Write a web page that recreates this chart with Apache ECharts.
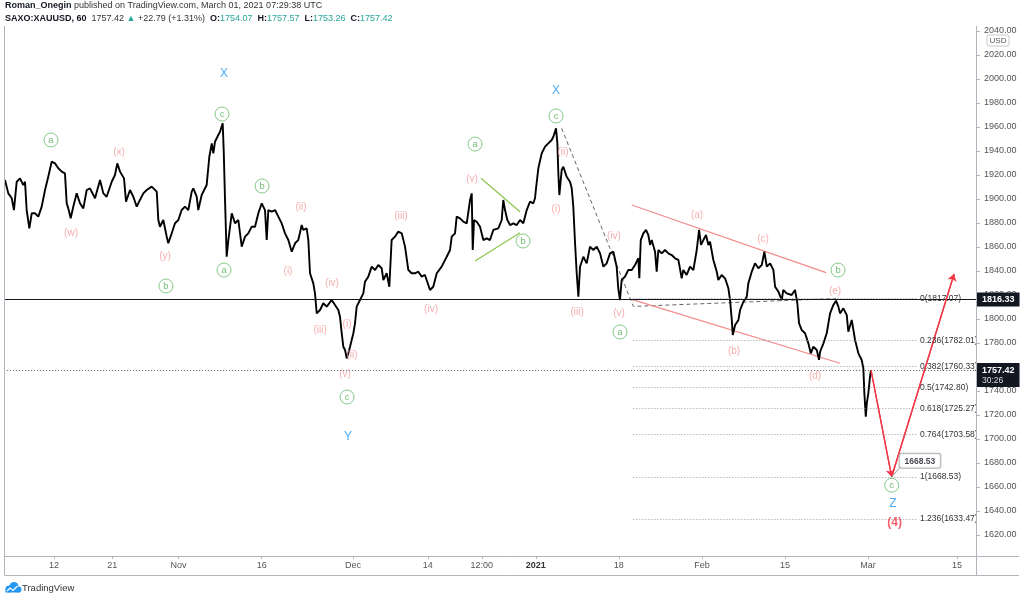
<!DOCTYPE html>
<html><head><meta charset="utf-8">
<script src="https://cdn.jsdelivr.net/npm/echarts@6/dist/echarts.min.js"></script>
<style>html,body{margin:0;padding:0;background:#fff}#c{width:1024px;height:600px}</style>
</head><body><div id="c"></div>
<script>
// x unit: trading-day index, 0 = Mon 2020-10-12 (weekends, Dec 25 and Jan 1 skipped)
const xTickDays   = [0, 7, 15, 25, 36, 45, 51.5, 58, 68, 78, 88, 98, 108.7];
const xTickLabels = ['12','21','Nov','16','Dec','14','12:00','2021','18','Feb','15','Mar','15'];
const yTickValues = [1620,1640,1660,1680,1700,1720,1740,1760,1780,1800,1820,1840,1860,1880,1900,1920,1940,1960,1980,2000,2020,2040];

// XAUUSD 60-min trace: [trading-day index, price]
const xauTrace = [
[-5.90,1915.8],[-5.50,1904.7],[-5.09,1900.6],[-4.82,1890.8],[-4.49,1914.4],[-4.09,1917.2],[-3.70,1911.7],[-3.49,1914.4],
[-3.29,1890.8],[-2.97,1875.6],[-2.68,1888.1],[-2.29,1888.1],[-1.89,1885.3],[-1.48,1893.6],[-1.08,1907.5],[-0.69,1918.6],
[-0.28,1931.1],[0.12,1929.7],[0.52,1925.6],[0.93,1922.8],[1.32,1921.4],[1.53,1896.4],[1.72,1892.2],[2.01,1883.9],
[2.32,1893.6],[2.73,1904.7],[3.13,1896.4],[3.53,1892.2],[3.94,1907.5],[4.33,1908.9],[4.94,1900.6],[5.54,1915.8],
[5.94,1904.7],[6.34,1901.9],[6.95,1914.4],[7.34,1920.0],[7.62,1929.7],[7.95,1922.8],[8.43,1917.2],[8.67,1897.8],
[9.15,1907.5],[9.55,1901.9],[9.96,1893.6],[10.35,1899.2],[10.75,1904.7],[11.16,1907.5],[11.76,1910.3],[12.37,1906.1],
[12.56,1882.5],[12.76,1876.9],[13.16,1882.5],[13.57,1868.6],[13.76,1863.1],[14.17,1871.4],[14.57,1879.8],[14.97,1882.5],
[15.37,1890.8],[15.77,1893.6],[16.17,1890.8],[16.58,1906.1],[16.77,1908.9],[17.18,1901.9],[17.37,1890.8],[17.78,1903.3],
[18.38,1911.7],[18.70,1935.2],[18.99,1946.4],[19.18,1938.1],[19.38,1947.7],[19.78,1953.3],[19.99,1956.1],[20.31,1963.1],
[20.43,1940.8],[20.59,1899.2],[20.79,1851.9],[20.99,1865.8],[21.40,1888.1],[21.79,1879.8],[22.19,1882.5],[22.60,1860.3],
[23.00,1868.6],[23.39,1871.4],[23.80,1876.9],[24.20,1876.9],[24.60,1888.1],[25.01,1896.4],[25.40,1890.8],[25.61,1865.8],
[25.80,1890.8],[26.21,1889.4],[26.61,1890.8],[27.01,1885.3],[27.41,1879.7],[27.81,1871.4],[28.21,1865.8],[28.62,1856.1],
[29.02,1863.1],[29.41,1865.8],[29.82,1878.3],[30.01,1874.2],[30.42,1875.6],[30.62,1865.8],[30.82,1838.1],[31.22,1829.7],
[31.42,1821.4],[31.63,1804.7],[32.03,1807.5],[32.42,1813.1],[32.83,1810.3],[33.43,1815.8],[33.83,1811.7],[34.23,1807.5],
[34.43,1801.9],[34.64,1788.1],[34.83,1776.9],[35.04,1774.2],[35.24,1767.2],[35.43,1771.4],[35.64,1776.9],[35.84,1778.3],
[36.04,1788.1],[36.24,1796.4],[36.44,1810.3],[36.84,1815.8],[37.24,1821.4],[37.44,1831.1],[37.84,1835.3],[38.25,1843.6],
[38.65,1840.8],[39.05,1845.0],[39.45,1842.3],[39.65,1832.5],[40.05,1838.1],[40.37,1826.9],[40.65,1865.8],[41.05,1868.6],
[41.45,1872.8],[41.86,1871.4],[42.26,1860.3],[42.66,1840.8],[43.06,1838.1],[43.46,1838.1],[43.86,1839.4],[44.27,1835.3],
[44.66,1836.7],[45.27,1824.2],[45.66,1826.9],[46.08,1838.1],[46.67,1843.6],[47.28,1851.9],[47.68,1857.5],[47.88,1868.6],
[48.28,1871.4],[48.48,1885.3],[48.88,1883.9],[49.28,1881.1],[49.69,1879.7],[50.09,1899.2],[50.29,1904.7],[50.41,1857.5],
[50.57,1882.5],[50.89,1881.1],[51.29,1876.9],[51.69,1865.8],[52.10,1867.2],[52.49,1865.8],[52.89,1874.2],[53.49,1875.6],
[53.90,1882.5],[54.09,1899.2],[54.30,1890.8],[54.58,1882.5],[54.90,1878.3],[55.30,1879.7],[55.71,1878.3],[56.11,1882.5],
[56.50,1879.7],[56.91,1890.8],[57.31,1897.8],[57.71,1896.4],[57.91,1900.6],[58.03,1908.9],[58.31,1925.6],[58.72,1938.1],
[59.12,1943.6],[59.51,1946.4],[59.92,1949.2],[60.12,1951.9],[60.44,1958.9],[60.60,1946.4],[60.72,1921.4],[60.84,1903.3],
[61.12,1924.2],[61.32,1926.9],[61.72,1918.6],[62.12,1914.4],[62.33,1908.9],[62.52,1893.6],[62.73,1863.1],[62.93,1838.1],
[63.13,1818.6],[63.33,1843.6],[63.73,1851.9],[64.13,1846.4],[64.53,1860.3],[64.93,1857.5],[65.34,1860.3],[65.74,1854.7],
[66.14,1843.6],[66.54,1846.4],[66.94,1854.7],[67.34,1856.1],[67.74,1843.6],[67.93,1825.6],[68.14,1815.8],[68.34,1832.5],
[68.74,1835.3],[69.14,1840.8],[69.55,1840.8],[69.95,1845.0],[70.35,1850.6],[70.47,1833.9],[70.64,1865.8],[70.95,1871.4],
[71.27,1874.2],[71.55,1870.0],[71.76,1861.7],[71.96,1865.8],[72.36,1856.1],[72.56,1839.4],[72.76,1857.5],[73.17,1854.7],
[73.56,1857.5],[73.96,1854.7],[74.37,1853.3],[74.77,1850.6],[75.17,1849.2],[75.57,1833.9],[75.76,1840.8],[76.17,1836.7],
[76.57,1843.6],[76.97,1840.8],[77.38,1857.5],[77.66,1874.2],[77.90,1861.7],[78.18,1865.8],[78.50,1870.0],[78.78,1861.7],
[78.98,1864.4],[79.38,1849.2],[79.79,1839.4],[79.98,1832.5],[80.38,1836.7],[80.79,1833.9],[81.19,1825.6],[81.39,1815.8],
[81.60,1799.2],[81.72,1786.7],[82.00,1795.0],[82.40,1799.2],[82.60,1807.5],[83.00,1814.4],[83.40,1818.6],[83.59,1829.7],
[84.00,1839.4],[84.40,1846.4],[84.80,1842.3],[85.21,1845.0],[85.52,1856.1],[85.81,1843.6],[86.21,1846.4],[86.61,1840.8],
[86.81,1826.9],[87.21,1822.8],[87.61,1815.8],[87.80,1824.2],[88.21,1821.4],[88.81,1820.0],[89.21,1824.2],[89.49,1813.1],
[89.70,1796.4],[90.02,1790.8],[90.42,1788.1],[90.82,1779.7],[91.11,1771.4],[91.42,1776.9],[91.83,1774.2],[92.10,1766.0],
[92.23,1772.7],[92.63,1779.7],[93.03,1788.1],[93.43,1804.7],[93.83,1811.7],[94.15,1815.3],[94.43,1810.3],[94.63,1804.7],
[95.03,1808.9],[95.44,1803.3],[95.63,1789.4],[96.04,1799.2],[96.44,1782.5],[96.84,1771.4],[97.24,1765.8],[97.44,1758.9],
[97.56,1738.1],[97.73,1718.6],[97.85,1729.7],[98.04,1738.1],[98.24,1751.9],[98.36,1757.42]
];

const lastPrice = 1757.42;
const hLinePrice = 1816.33;
const fibRatios = ['0','0.236','0.382','0.5','0.618','0.764','1','1.236'];
const fibPrices = [1817.07,1782.01,1760.33,1742.80,1725.27,1703.58,1668.53,1633.47];
const fibStartT = 69.75, fibEndT = 103.9;
const fibAnchors = [[61.12,1958.9],[69.75,1810.5],[94.15,1817.07]];
const projection = [[98.36,1757.42],[100.85,1668.53],[108.36,1837.5]];
const targetPrice = 1668.53;
const greenUpper = [[51.41,1917.3],[56.10,1889.4]];
const greenLower = [[50.69,1848.3],[56.10,1871.9]];
const pinkUpper = [[69.55,1895.0],[92.95,1838.6]];
const pinkLower = [[69.55,1816.4],[94.63,1763.1]];

const circleLabels = [
 [-0.36,1949.2,'a'],[20.23,1970.8,'c'],[25.05,1910.8,'b'],[20.47,1840.8,'a'],[13.48,1827.5,'b'],[35.28,1735.0,'c'],
 [50.69,1945.8,'a'],[56.47,1865.0,'b'],[60.44,1969.2,'c'],[68.14,1789.2,'a'],[94.39,1840.8,'b'],[100.85,1661.5,'c']
];
const waveLabels = [
 [2.05,1871.7,'(w)'],[7.83,1939.2,'(x)'],[13.36,1852.5,'(y)'],[29.74,1893.3,'(ii)'],[28.17,1840.0,'(i)'],
 [32.03,1790.8,'(iii)'],[33.47,1830.0,'(iv)'],[35.28,1795.8,'(i)'],[35.88,1770.0,'(ii)'],[35.04,1754.2,'(v)'],
 [41.78,1885.8,'(iii)'],[45.39,1808.3,'(iv)'],[50.33,1916.7,'(v)'],[61.28,1939.2,'(ii)'],[60.44,1891.7,'(i)'],
 [62.97,1805.8,'(iii)'],[67.42,1869.2,'(iv)'],[68.02,1805.0,'(v)'],[77.42,1886.7,'(a)'],[81.87,1773.3,'(b)'],
 [85.36,1866.7,'(c)'],[91.62,1752.5,'(d)'],[94.03,1823.3,'(e)']
];
const cycleLabels = [[20.47,2004.2,'X'],[35.41,1701.7,'Y'],[60.44,1990.0,'X'],[101.0,1645.8,'Z']];
const degreeLabels = [[101.2,1630.0,'(4)']];

const FONT = '"Liberation Sans", Arial, sans-serif';
const PINK = '#f39a97', GREEN = '#4caf50', BLUE = '#2196f3', RED = '#f23645';

const chart = echarts.init(document.getElementById('c'));

const fibMark = fibPrices.map((p,i)=>[
  {coord:[fibStartT,p], lineStyle:{color:'#9a9a9a', type:[1,2], width:1},
   label:{show:true, position:'end', distance:3, formatter: fibRatios[i]+'('+p.toFixed(2)+')', color:'#333', fontSize:8.5, fontFamily:FONT}},
  {coord:[fibEndT,p]}
]);

function textSeries(arr, style){
  return {
    type:'scatter', symbolSize:0.01, silent:true, z:6,
    data: arr.map(d=>({value:[d[0],d[1]], name:d[2]})),
    label:Object.assign({show:true, position:'inside', formatter:p=>p.name, fontFamily:FONT}, style)
  };
}

const option = {
  animation:false,
  backgroundColor:'#fff',
  grid:{left:4.16, right:48, top:7, bottom:41, containLabel:false},
  xAxis:{
    type:'value', min:-6, max:111, offset:-3,
    axisLine:{show:false, onZero:false}, splitLine:{show:false},
    axisTick:{show:true, customValues:xTickDays, length:3, lineStyle:{color:'#b2b5be'}},
    axisLabel:{customValues:xTickDays, margin:5, color:'#555', fontSize:9, fontFamily:FONT,
      formatter:v=>{const s=xTickLabels[xTickDays.indexOf(v)]; return s==='2021'?'{y|2021}':s;},
      rich:{y:{fontWeight:'bold', color:'#333', fontSize:9, fontFamily:FONT}}}
  },
  yAxis:{
    type:'value', position:'right', min:1600, max:2060, interval:20,
    axisLine:{show:false, onZero:false}, splitLine:{show:false},
    axisTick:{show:true, customValues:yTickValues, length:4, lineStyle:{color:'#b2b5be'}},
    axisLabel:{customValues:yTickValues, margin:8, color:'#555', fontSize:9, fontFamily:FONT, formatter:v=>v.toFixed(2)}
  },
  series:[
    {type:'line', data:fibAnchors, showSymbol:false, silent:true, z:2,
     lineStyle:{color:'#666', width:1, type:[4,3]},
     markLine:{silent:true, symbol:['none','none'], data: fibMark}},
    {type:'line', data:greenUpper, showSymbol:false, silent:true, lineStyle:{color:'#8bc34a', width:1.2}},
    {type:'line', data:greenLower, showSymbol:false, silent:true, lineStyle:{color:'#8bc34a', width:1.2}},
    {type:'line', data:pinkUpper, showSymbol:false, silent:true, lineStyle:{color:'#f48a8a', width:1.2}},
    {type:'line', data:pinkLower, showSymbol:false, silent:true, lineStyle:{color:'#f48a8a', width:1.2}},
    {type:'line', data:xauTrace, showSymbol:false, silent:true, z:3, sampling:'none',
     lineStyle:{color:'#000', width:1.9, join:'bevel'},
     markLine:{silent:true, symbol:['none','none'], data:[
       {yAxis:hLinePrice, lineStyle:{color:'#131722', type:'solid', width:1},
        label:{show:true, position:'end', distance:1, formatter:hLinePrice.toFixed(2), backgroundColor:'#131722',
          color:'#fff', fontWeight:'bold', fontSize:9, fontFamily:FONT, padding:[3,5,2,5]}},
       {yAxis:lastPrice, lineStyle:{color:'#555', type:[1,2], width:1},
        label:{show:true, position:'end', distance:1, offset:[0,5], formatter:'{a|'+lastPrice.toFixed(2)+'}\n{b|30:26}',
          backgroundColor:'#131722', padding:[2,5,1,5],
          rich:{a:{color:'#fff', fontWeight:'bold', fontSize:9, fontFamily:FONT, lineHeight:11},
                b:{color:'#ddd', fontSize:8.5, fontFamily:FONT, lineHeight:10}}}}
     ]}},
    {type:'line', data:projection, showSymbol:false, silent:true, z:4, lineStyle:{color:RED, width:1.3},
     markLine:{silent:true, symbol:['none','arrow'], symbolSize:7, lineStyle:{color:RED, width:1.3, type:'solid'}, label:{show:false},
       data:[[{coord:projection[0]},{coord:projection[1]}],[{coord:projection[1]},{coord:projection[2]}]]}},
    {type:'line', data:[[projection[1][0],targetPrice],[projection[1][0]+0.95,targetPrice+7.5]], showSymbol:false, silent:true, z:5,
     lineStyle:{color:'#999', width:1}},
    {type:'scatter', symbolSize:0.01, silent:true, z:7, data:[[projection[1][0]+0.95,targetPrice+7.5]],
     label:{show:true, position:[0,-14], formatter:targetPrice.toFixed(2), backgroundColor:'#fff', borderColor:'#9a9a9a',
       borderWidth:1, borderRadius:2, padding:[3,5,2,5], color:'#131722', fontWeight:'bold', fontSize:8.5, fontFamily:FONT}},
    {type:'scatter', silent:true, z:6, symbol:'circle', symbolSize:14,
     itemStyle:{color:'#fff', borderColor:'#66bb6a', borderWidth:1},
     data: circleLabels.map(d=>({value:[d[0],d[1]], name:d[2]})),
     label:{show:true, position:'inside', formatter:p=>p.name, color:GREEN, fontSize:9.5, fontFamily:FONT}},
    textSeries(waveLabels, {color:PINK, fontSize:10}),
    textSeries(cycleLabels, {color:BLUE, fontSize:12}),
    textSeries(degreeLabels, {color:RED, fontSize:12, fontWeight:'bold'})
  ],
  graphic:[
    {type:'rect', silent:true, z:50, shape:{x:0,y:0,width:1024,height:26}, style:{fill:'#fff'}},
    {type:'text', silent:true, z:51, x:5, y:1, style:{text:'{b|Roman_Onegin}{n| published on TradingView.com, March 01, 2021 07:29:38 UTC}',
      rich:{b:{fontWeight:'bold', fontSize:9, fontFamily:FONT, fill:'#131722'}, n:{fontSize:9, fontFamily:FONT, fill:'#333'}}}},
    {type:'text', silent:true, z:51, x:5, y:14, style:{text:'{b|SAXO:XAUUSD, 60}{n|  1757.42 }{g|▲}{n| +22.79 (+1.31%)  }{b|O:}{g|1754.07  }{b|H:}{g|1757.57  }{b|L:}{g|1753.26  }{b|C:}{g|1757.42}',
      rich:{b:{fontWeight:'bold', fontSize:9, fontFamily:FONT, fill:'#131722'}, n:{fontSize:9, fontFamily:FONT, fill:'#333'}, g:{fontSize:9, fontFamily:FONT, fill:'#26a69a'}}}},
    {type:'line', silent:true, z:40, shape:{x1:4.5,y1:26,x2:4.5,y2:575}, style:{stroke:'#b2b5be', lineWidth:1}},
    {type:'line', silent:true, z:40, shape:{x1:976.5,y1:26,x2:976.5,y2:575}, style:{stroke:'#b2b5be', lineWidth:1}},
    {type:'line', silent:true, z:40, shape:{x1:4.5,y1:556.5,x2:1019,y2:556.5}, style:{stroke:'#b2b5be', lineWidth:1}},
    {type:'line', silent:true, z:40, shape:{x1:4.5,y1:575.5,x2:1019,y2:575.5}, style:{stroke:'#b2b5be', lineWidth:1}},
    {type:'rect', silent:true, z:41, shape:{x:987,y:35,width:22,height:11,r:2}, style:{fill:'#fff', stroke:'#c8c8c8', lineWidth:1}},
    {type:'text', silent:true, z:42, x:998, y:40.5, style:{text:'USD', fontSize:8, fontFamily:FONT, fill:'#555', align:'center', verticalAlign:'middle'}},
    {type:'group', silent:true, z:45, children:[
      {type:'circle', shape:{cx:9,cy:589,r:3.5}, style:{fill:'#2196f3'}},
      {type:'circle', shape:{cx:14,cy:586.5,r:4.5}, style:{fill:'#2196f3'}},
      {type:'circle', shape:{cx:18.5,cy:589.5,r:3}, style:{fill:'#2196f3'}},
      {type:'rect', shape:{x:5.5,y:589,width:14,height:3.5}, style:{fill:'#2196f3'}},
      {type:'polyline', shape:{points:[[7,591],[10,588],[13,590.5],[17.5,586]]}, style:{stroke:'#fff', lineWidth:1.2, fill:null}}
    ]},
    {type:'text', silent:true, z:45, x:22, y:588, style:{text:'TradingView', fontSize:9.5, fontFamily:FONT, fill:'#333', verticalAlign:'middle'}}
  ]
};
chart.setOption(option);
</script>
</body></html>
